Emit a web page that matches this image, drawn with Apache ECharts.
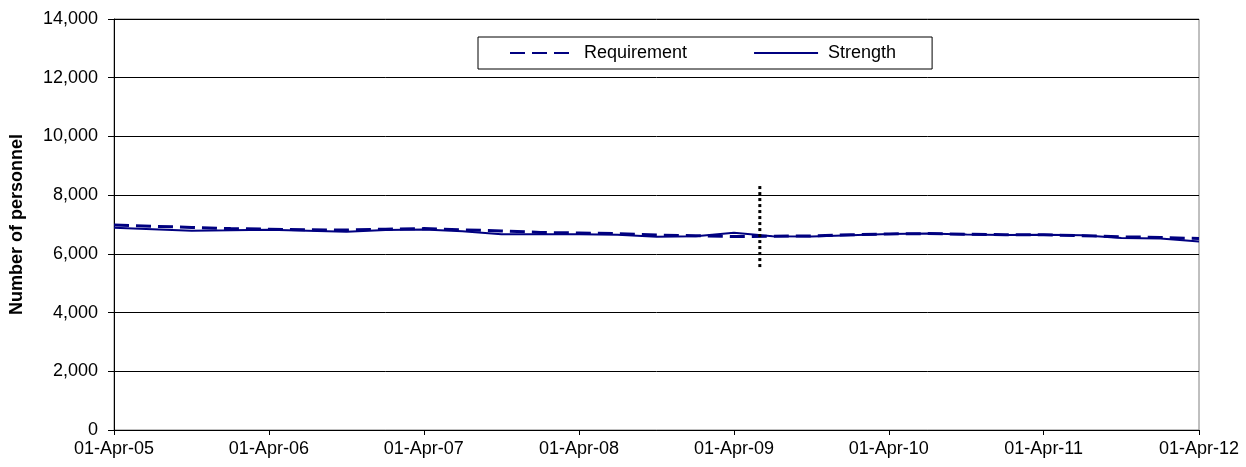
<!DOCTYPE html>
<html>
<head>
<meta charset="utf-8">
<script src="https://cdn.jsdelivr.net/npm/echarts@6/dist/echarts.min.js"></script>
<style>html,body{margin:0;padding:0;background:#fff;}#c{width:1246px;height:467px;}</style>
</head>
<body>
<div id="c"></div>
<script>
// Quarterly observation dates
var dates = [
  '2005-04-01','2005-07-01','2005-10-01','2006-01-01',
  '2006-04-01','2006-07-01','2006-10-01','2007-01-01',
  '2007-04-01','2007-07-01','2007-10-01','2008-01-01',
  '2008-04-01','2008-07-01','2008-10-01','2009-01-01',
  '2009-04-01','2009-07-01','2009-10-01','2010-01-01',
  '2010-04-01','2010-07-01','2010-10-01','2011-01-01',
  '2011-04-01','2011-07-01','2011-10-01','2012-01-01',
  '2012-04-01'
];
var requirement = [
  6980,6940,6900,6860,
  6840,6820,6810,6840,
  6860,6820,6780,6730,
  6710,6690,6640,6620,
  6590,6600,6610,6650,
  6680,6690,6670,6650,
  6650,6620,6580,6560,
  6520
];
var strength = [
  6890,6840,6790,6800,
  6820,6790,6750,6810,
  6830,6770,6670,6670,
  6670,6650,6580,6600,
  6720,6600,6590,6630,
  6680,6690,6660,6640,
  6650,6630,6540,6520,
  6420
];
// Vertical dotted marker
var markerDates = ['2009-06-01','2009-06-01'];
var markerValues = [5550, 8330];
// Axis tick labels
var xTickDates = ['2005-04-01','2006-04-01','2007-04-01','2008-04-01','2009-04-01','2010-04-01','2011-04-01','2012-04-01'];
var xTickLabels = ['01-Apr-05','01-Apr-06','01-Apr-07','01-Apr-08','01-Apr-09','01-Apr-10','01-Apr-11','01-Apr-12'];
var seriesNames = ['Requirement','Strength'];

function ts(d){ var p=d.split('-'); return Date.UTC(+p[0], +p[1]-1, +p[2]); }
function pairs(ds, vs){ return ds.map(function(d,i){ return [ts(d), vs[i]]; }); }
var tickTs = xTickDates.map(ts);
var FONT = '"Liberation Sans", Arial, sans-serif';
var NAVY = '#000080';

var chart = echarts.init(document.getElementById('c'), null, {renderer:'canvas'});
chart.setOption({
  animation:false,
  backgroundColor:'#fff',
  textStyle:{fontFamily:FONT},
  grid:{left:113, right:47, top:19, bottom:37, show:true, borderColor:'#808080', borderWidth:1, backgroundColor:'transparent'},
  legend:{
    data:seriesNames,
    left:478, top:37,
    padding:[7,36,7,31],
    itemWidth:64, itemHeight:14, itemGap:66,
    borderColor:'#000', borderWidth:1, backgroundColor:'#fff',
    itemStyle:{opacity:0},
    textStyle:{fontFamily:FONT, fontSize:18, color:'#000', padding:[0,0,0,5]},
    z:10
  },
  xAxis:{
    type:'value',
    min:ts('2005-04-01'), max:ts('2012-04-01'),
    axisLine:{lineStyle:{color:'#000', width:1}},
    axisTick:{show:true, length:5, lineStyle:{color:'#000'}, customValues:tickTs},
    axisLabel:{
      customValues:tickTs, margin:10, fontSize:18, color:'#000', fontFamily:FONT,
      formatter:function(v){
        var best=-1, bd=Infinity;
        for (var i=0;i<tickTs.length;i++){ var d=Math.abs(tickTs[i]-v); if(d<bd){bd=d;best=i;} }
        return bd < 86400000 ? xTickLabels[best] : '';
      },
      showMinLabel:true, showMaxLabel:true
    },
    splitLine:{show:false}
  },
  yAxis:{
    type:'value', min:0, max:14000, interval:2000,
    name:'Number of personnel', nameLocation:'middle', nameGap:88,
    nameTextStyle:{fontSize:18, fontWeight:'bold', color:'#000', fontFamily:FONT},
    axisLine:{show:true, lineStyle:{color:'#000'}},
    axisTick:{show:true, length:6, lineStyle:{color:'#000'}},
    axisLabel:{fontSize:18, color:'#000', margin:16, fontFamily:FONT,
      formatter:function(v){ return v.toLocaleString('en-US'); }},
    splitLine:{show:true, lineStyle:{color:'#000', width:1}}
  },
  series:[
    {name:seriesNames[0], type:'line', data:pairs(dates, requirement), showSymbol:false, symbol:'none',
     color:NAVY, lineStyle:{color:NAVY, width:3, type:[15,7]}, z:3},
    {name:seriesNames[1], type:'line', data:pairs(dates, strength), showSymbol:false, symbol:'none',
     color:NAVY, lineStyle:{color:NAVY, width:2}, z:4},
    {name:'marker', type:'line', data:pairs(markerDates, markerValues), showSymbol:false, symbol:'none',
     color:'#000', lineStyle:{color:'#000', width:3, type:[3,3]}, silent:true, z:5}
  ]
});
</script>
</body>
</html>
